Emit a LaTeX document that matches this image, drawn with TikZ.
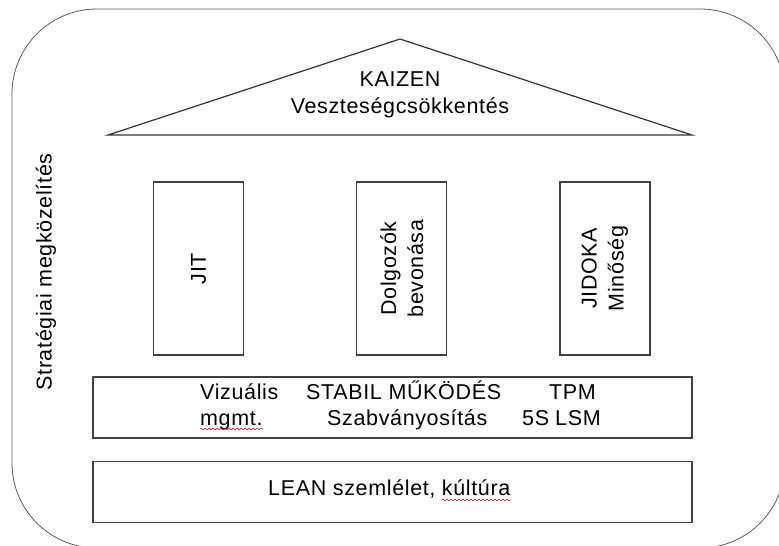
\documentclass[tikz,border=0pt]{standalone}
\usepackage{fontspec}
\setmainfont{Liberation Sans}[LetterSpace=3]
\usetikzlibrary{positioning,decorations.pathmorphing}

\begin{document}
\begin{tikzpicture}[x=1pt, y=-1pt, node distance=112pt,
      every node/.append style={align=center, font=\fontsize{21.5}{27}\selectfont},
      frame/.style={draw=black!65, line width=0.8pt, rounded corners=85pt},
      roof/.style={draw=black!80, line width=1.2pt, line join=miter},
      pillar/.style={draw=black!75, line width=1.2pt, minimum width=90pt, minimum height=173pt, inner sep=0pt},
      band/.style={draw=black!75, line width=1.2pt, minimum width=599pt, minimum height=61pt, inner sep=0pt},
      txt/.style={inner sep=0pt, anchor=base west},
      squig/.style={red!80!black, line width=0.5pt, decorate,
                    decoration={snake, amplitude=0.9pt, segment length=4pt}}]

  \useasboundingbox (0,0) rectangle (779,546);
  \clip (0,0) rectangle (779,546);

  % outer frame
  \draw[frame] (12,9) rectangle (785,548);
  \node[rotate=90] (strat) at (46,272) {Stratégiai megközelítés};

  % roof
  \coordinate (apex)  at (400,39);
  \coordinate (eaveL) at (108,135);
  \coordinate (eaveR) at (692,135);
  \draw[roof] (eaveL) -- (apex) -- (eaveR) -- cycle;
  \node (kaizen) at (400,95) {KAIZEN\\Veszteségcsökkentés};

  % pillars
  \node [pillar] (jit) at (198.5,268.5) {};
  \node [pillar, right=of jit] (dolg)   {};
  \node [pillar, right=of dolg] (jidoka) {};
  \node [rotate=90] (jitlbl)    at (jit.center)    {JIT};
  \node [rotate=90] (dolglbl)   at (dolg.center)   {Dolgozók\\bevonása};
  \node [rotate=90] (jidokalbl) at (jidoka.center) {JIDOKA\\Minőség};

  % stable operation
  \node [band] (stabil) at (392.5,407.5) {};
  \node [txt] (viz)   at (200,399) {Vizuális};
  \node [txt] (stab)  at (306,399) {STABIL MŰKÖDÉS};
  \node [txt] (tpm)   at (549,399) {TPM};
  \node [txt] (mgmt)  at (200,425) {mgmt.};
  \node [txt] (szabv) at (327,425) {Szabványosítás};
  \node [txt] (fives) at (522,425) {5S};
  \node [txt] (lsm)   at (555,425) {LSM};
  \draw[squig] ([yshift=-4pt]mgmt.base west) -- ([yshift=-4pt]mgmt.base east);

  % foundation
  \node [band, below=22pt of stabil] (lean) {};
  \node [txt] (leantxt) at (268,495) {LEAN szemlélet,};
  \node [txt, right=6pt of leantxt.base east, anchor=base west] (kultura) {kúltúra};
  \draw[squig] ([yshift=-5pt]kultura.base west) -- ([yshift=-5pt]kultura.base east);
\end{tikzpicture}
\end{document}
